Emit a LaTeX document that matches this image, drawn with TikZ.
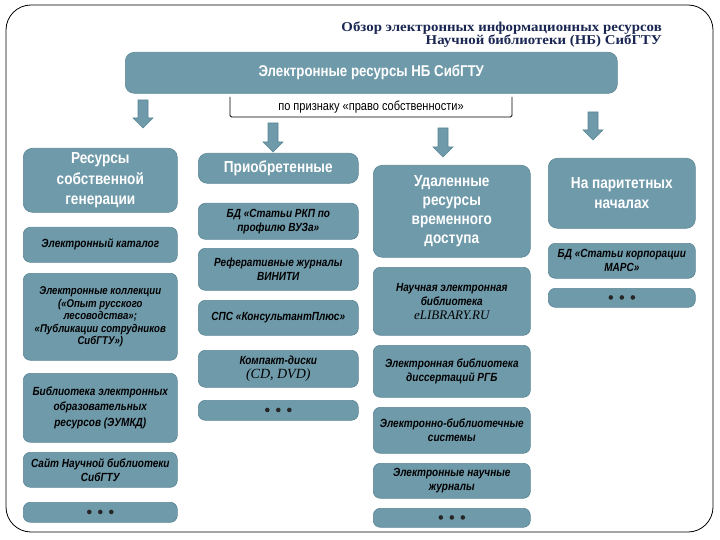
\documentclass[tikz,border=0pt]{standalone}
\usepackage{fontspec}
\setmainfont{Liberation Sans}
\newfontfamily\nar[FakeStretch=0.85]{Liberation Sans}
\newfontfamily\ser{Liberation Serif}
\newfontfamily\wser[FakeStretch=1.1]{Liberation Serif}
\definecolor{sb}{RGB}{111,154,170}
\definecolor{sbd}{RGB}{92,134,150}
\definecolor{navy}{RGB}{25,38,82}
\usetikzlibrary{calc}
\tikzset{
  hdr/.style={rounded corners=9pt, fill=sb, draw=sbd, line width=0.6pt, anchor=north west, align=center, text=white, inner sep=0pt,
    font=\nar\bfseries\fontsize{16}{20.5}\selectfont},
  sub/.style={rounded corners=7pt, fill=sb, draw=sbd, line width=0.6pt, anchor=north west, align=center, text=black, inner sep=0pt,
    font=\nar\bfseries\itshape\fontsize{11.8}{14}\selectfont},
  blk/.style={fill=sb, draw=sbd, line width=0.6pt},
}
\newcommand\dts{\tikz[baseline=-3pt]{\foreach \i in {0,11,22}{\fill[black!85] (\i pt,0) circle (2.3pt);}}}
\begin{document}
\begin{tikzpicture}[x=1pt,y=-1pt]
\useasboundingbox (0,0) rectangle (720,540);
% frame
\draw[line width=0.8pt, rounded corners=25pt] (6,5) rectangle (713,532);
% title
\node[anchor=east, align=right, text=navy, inner sep=0pt, font=\wser\bfseries\fontsize{13.5}{13.5}\selectfont] (title) at (662,34.5)
  {Обзор электронных информационных ресурсов\\Научной библиотеки (НБ) СибГТУ};
% top
\node[hdr, minimum width=492pt, minimum height=41pt, font=\nar\bfseries\fontsize{15.6}{18}\selectfont] (top) at (125,52) {Электронные ресурсы НБ СибГТУ};
% bracket
\draw[line width=0.8pt, rounded corners=1.5pt] (230,97) -- (230,117) -- (512,117) -- (512,97);
\node[font=\nar\fontsize{13}{14}\selectfont, inner sep=0pt] (crit) at (371,107) {по признаку «право собственности»};
% arrows
\coordinate (a1t) at (143,100); \coordinate (a1b) at (143,128);
\coordinate (a2t) at (273,123); \coordinate (a2b) at (273,152);
\coordinate (a3t) at (443,128); \coordinate (a3b) at (443,157);
\coordinate (a4t) at (593,112); \coordinate (a4b) at (593,140);
\foreach \t/\b in {a1t/a1b,a2t/a2b,a3t/a3b,a4t/a4b}{
  \path[blk] ($(\t)+(-5,0)$) -- ($(\b)+(-5,-10)$) -- ($(\b)+(-10,-10)$) -- (\b) -- ($(\b)+(10,-10)$) -- ($(\b)+(5,-10)$) -- ($(\t)+(5,0)$) -- cycle;
}
% column 1
\node[hdr, minimum width=154pt, minimum height=64pt] (own) at (23,148) {Ресурсы\\собственной\\генерации};
\node[sub, minimum width=154pt, minimum height=35pt] (cat) at (23,227) {Электронный каталог};
\node[sub, minimum width=154pt, minimum height=87pt, font=\nar\bfseries\itshape\fontsize{11.3}{12.5}\selectfont] (coll) at (23,273)
  {Электронные коллекции\\(«Опыт русского\\лесоводства»;\\«Публикации сотрудников\\СибГТУ»)};
\node[sub, minimum width=154pt, minimum height=69pt, font=\nar\bfseries\itshape\fontsize{11.8}{15.5}\selectfont] (eumk) at (23,373)
  {Библиотека электронных\\образовательных\\ресурсов (ЭУМКД)};
\node[sub, minimum width=154pt, minimum height=35pt] (site) at (23,452) {Сайт Научной библиотеки\\СибГТУ};
\node[sub, minimum width=154pt, minimum height=20pt] (d1) at (23,502) {\dts};
% column 2
\node[hdr, minimum width=160pt, minimum height=30pt] (acq) at (198,153) {Приобретенные};
\node[sub, minimum width=160pt, minimum height=36pt] (rkp) at (198,203) {БД «Статьи РКП по\\профилю ВУЗа»};
\node[sub, minimum width=160pt, minimum height=42pt] (vin) at (198,248) {Реферативные журналы\\ВИНИТИ};
\node[sub, minimum width=160pt, minimum height=35pt] (sps) at (198,300) {СПС «КонсультантПлюс»};
\node[sub, minimum width=160pt, minimum height=37pt] (cd) at (198,350) {Компакт-диски\\{\ser\mdseries\itshape\fontsize{14}{15}\selectfont (CD, DVD)}};
\node[sub, minimum width=160pt, minimum height=20pt] (d2) at (198,400) {\dts};
% column 3
\node[hdr, minimum width=157pt, minimum height=92pt, font=\nar\bfseries\fontsize{16}{19}\selectfont] (rem) at (373,165) {Удаленные\\ресурсы\\временного\\доступа};
\node[sub, minimum width=157pt, minimum height=68pt] (elib) at (373,267) {Научная электронная\\библиотека\\{\ser\mdseries\itshape\fontsize{13}{15}\selectfont eLIBRARY.RU}};
\node[sub, minimum width=157pt, minimum height=52pt] (rgb) at (373,345) {Электронная библиотека\\диссертаций РГБ};
\node[sub, minimum width=157pt, minimum height=46pt] (ebs) at (373,407) {Электронно-библиотечные\\системы};
\node[sub, minimum width=157pt, minimum height=35pt] (jour) at (373,463) {Электронные научные\\журналы};
\node[sub, minimum width=157pt, minimum height=19pt] (d3) at (373,508) {\dts};
% column 4
\node[hdr, minimum width=147pt, minimum height=70pt] (par) at (548,158) {На паритетных\\началах};
\node[sub, minimum width=147pt, minimum height=35pt] (mars) at (548,243) {БД «Статьи корпорации\\МАРС»};
\node[sub, minimum width=147pt, minimum height=19pt] (d4) at (548,288) {\dts};
\end{tikzpicture}
\end{document}
